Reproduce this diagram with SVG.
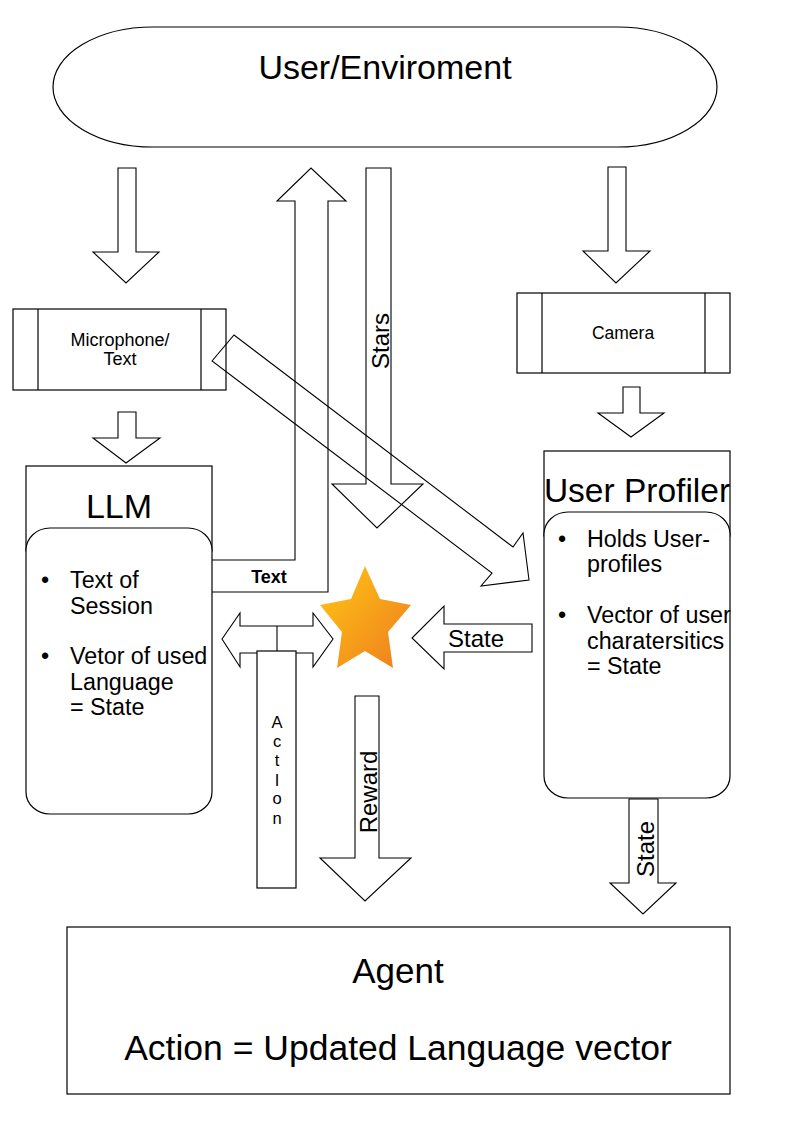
<svg xmlns="http://www.w3.org/2000/svg" width="794" height="1123" viewBox="0 0 794 1123">
<defs>
<linearGradient id="starGrad" x1="0" y1="0" x2="1" y2="1">
<stop offset="0" stop-color="#ffc814"/>
<stop offset="1" stop-color="#ee7b20"/>
</linearGradient>
<style>
.shape{fill:#fff;stroke:#000;stroke-width:1.2}
.arrow{fill:none;stroke:#000;stroke-width:1.1;stroke-linejoin:miter}
.t{font-family:"Liberation Sans",Arial,sans-serif;fill:#000}
.title{font-size:34px;text-anchor:middle}
.small{font-size:17.5px;text-anchor:middle}
.bul{font-size:23.3px}
.lab{font-size:24px}
</style>
</defs>
<rect width="794" height="1123" fill="#fff"/>

<g id="connectors">
<polygon class="arrow" points="118,168 136,168 136,252 159,252 126,283 93,252 118,252"/>
<polygon class="arrow" points="118,412 136,412 136,438 160,438 126,463 93,438 118,438"/>
<polyline class="arrow" points="212,560 295,560 295,201 277,201 311,168 346,201 328,201 328,592 212,592"/>
<polygon class="arrow" points="366,168 391,168 391,484 423,484 377,528 332,484 366,484"/>
<polygon class="arrow" points="212,361 234,335 513,547 523,533 529,580 481,586 492,573"/>
<polygon class="arrow" points="608,167 626,167 626,251 650,251 616,283 583,251 608,251"/>
<polygon class="arrow" points="623,387 640,387 640,413 664,413 631,437 598,413 623,413"/>
<polygon class="arrow" points="532,624 444,624 444,606 412,638 444,669 444,652 532,652"/>
<polygon class="arrow" points="355,696 379,696 379,858 411,858 365,901 320,858 355,858"/>
<polygon class="arrow" points="629,799 658,799 658,883 676,883 643,914 610,883 629,883"/>
<polygon class="arrow" points="222,639 240,613 240,626 313,626 313,613 333,639 313,667 313,653 240,653 240,667"/>
<line class="arrow" x1="277" y1="626" x2="277" y2="651"/>
<text class="t" x="269" y="583" font-size="18" font-weight="bold" text-anchor="middle">Text</text>
<text class="t lab" transform="translate(389,341) rotate(-90)" text-anchor="middle">Stars</text>
<text class="t lab" x="448" y="647">State</text>
<text class="t lab" transform="translate(377,792) rotate(-90)" text-anchor="middle">Reward</text>
<text class="t lab" transform="translate(654,849) rotate(-90)" text-anchor="middle">State</text>
</g>

<g id="user-environment">
<path class="shape" d="M153,27 H617 A100,60 0 0 1 617,147 H153 A100,60 0 0 1 153,27 Z"/>
<text class="t title" x="385" y="79">User/Enviroment</text>
</g>

<g id="microphone">
<rect x="13" y="309" width="213" height="81" fill="none" stroke="#000" stroke-width="1.2"/>
<line x1="38" y1="309" x2="38" y2="390" stroke="#000" stroke-width="1.2"/>
<line x1="201" y1="309" x2="201" y2="390" stroke="#000" stroke-width="1.2"/>
<text class="t small" x="120" y="346" style="font-size:18px">Microphone/</text>
<text class="t small" x="120" y="365" style="font-size:18px">Text</text>
</g>

<g id="camera">
<rect class="shape" x="517" y="293" width="213" height="80"/>
<line x1="542" y1="293" x2="542" y2="373" stroke="#000" stroke-width="1.2"/>
<line x1="705" y1="293" x2="705" y2="373" stroke="#000" stroke-width="1.2"/>
<text class="t small" x="623" y="339">Camera</text>
</g>

<g id="llm">
<rect class="shape" x="26" y="466" width="186" height="85"/>
<rect class="shape" x="26" y="528" width="186" height="286" rx="24" ry="22"/>
<text class="t title" x="119" y="518">LLM</text>
<text class="t bul" x="41" y="588">•</text>
<text class="t bul" x="70" y="588">Text of</text>
<text class="t bul" x="70" y="614">Session</text>
<text class="t bul" x="41" y="664">•</text>
<text class="t bul" x="70" y="664">Vetor of used</text>
<text class="t bul" x="70" y="690">Language</text>
<text class="t bul" x="70" y="715">= State</text>
</g>

<g id="user-profiler">
<rect class="shape" x="544" y="451" width="186" height="85"/>
<rect class="shape" x="544" y="512" width="186" height="286" rx="24" ry="22"/>
<text class="t title" x="637" y="502" style="font-size:33.5px">User Profiler</text>
<text class="t bul" x="558" y="547">•</text>
<text class="t bul" x="587" y="547">Holds User-</text>
<text class="t bul" x="587" y="572">profiles</text>
<text class="t bul" x="558" y="623">•</text>
<text class="t bul" x="587" y="623">Vector of user</text>
<text class="t bul" x="587" y="649">charatersitics</text>
<text class="t bul" x="587" y="674">= State</text>
</g>

<g id="reward-star">
<polygon points="365,566 380,599 411,605 388,632 393,668 365,651 337,668 342,632 320,605 351,599" fill="url(#starGrad)"/>
</g>

<g id="action">
<rect class="shape" x="257" y="651" width="39" height="237"/>
<text class="t" x="277" y="728" font-size="16.5" text-anchor="middle">A</text>
<text class="t" x="277" y="747" font-size="16.5" text-anchor="middle">c</text>
<text class="t" x="277" y="766" font-size="16.5" text-anchor="middle">t</text>
<text class="t" x="277" y="786" font-size="16.5" text-anchor="middle">I</text>
<text class="t" x="277" y="804" font-size="16.5" text-anchor="middle">o</text>
<text class="t" x="277" y="824" font-size="16.5" text-anchor="middle">n</text>
</g>

<g id="agent">
<rect class="shape" x="67" y="927" width="663" height="167"/>
<text class="t title" x="398" y="983" style="font-size:35px">Agent</text>
<text class="t title" x="398" y="1060" style="font-size:35.5px">Action = Updated Language vector</text>
</g>
</svg>
